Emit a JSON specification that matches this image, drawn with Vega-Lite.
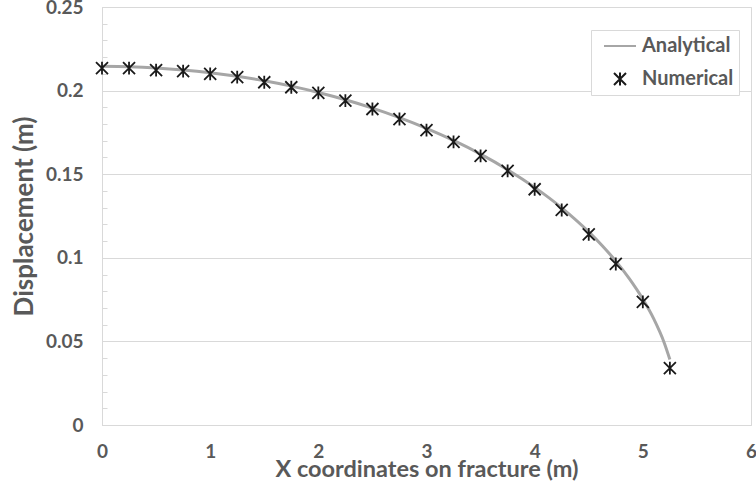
{
  "$schema": "https://vega.github.io/schema/vega-lite/v6.json",
  "width": 649,
  "height": 418,
  "autosize": {"type": "none"},
  "padding": {"left": 102, "top": 7, "right": 5, "bottom": 69},
  "background": "white",
  "config": {
    "view": {"stroke": "#d9d9d9", "strokeWidth": 1},
    "font": "Lato",
    "axis": {
      "labelFont": "Lato", "labelFontWeight": "bold", "labelFontSize": 19, "labelColor": "#595959",
      "titleFont": "Lato", "titleFontWeight": "bold", "titleFontSize": 23.5, "titleColor": "#595959",
      "domainColor": "#d9d9d9", "gridColor": "#d9d9d9", "labelFlush": false, "labelOverlap": false, "labelBound": false
    },
    "legend": {
      "labelFont": "Lato", "labelFontWeight": "bold", "labelFontSize": 20, "labelColor": "#595959",
      "orient": "none", "legendX": 489, "legendY": 23,
      "strokeColor": "#d9d9d9", "fillColor": "white", "padding": 5,
      "rowPadding": 12, "symbolOffset": 13, "labelOffset": 11, "symbolSize": 400, "symbolStrokeWidth": 2
    }
  },
  "datasets": {
    "analytical": [
      {"x": 0, "y": 0.2145}, {"x": 0.25, "y": 0.21426}, {"x": 0.5, "y": 0.21356}, {"x": 0.75, "y": 0.21237},
      {"x": 1.0, "y": 0.21071}, {"x": 1.25, "y": 0.20854}, {"x": 1.5, "y": 0.20586}, {"x": 1.75, "y": 0.20266},
      {"x": 2.0, "y": 0.19889}, {"x": 2.25, "y": 0.19453}, {"x": 2.5, "y": 0.18954}, {"x": 2.75, "y": 0.18387},
      {"x": 3.0, "y": 0.17745}, {"x": 3.25, "y": 0.1702}, {"x": 3.5, "y": 0.162}, {"x": 3.75, "y": 0.15271},
      {"x": 4.0, "y": 0.14211}, {"x": 4.25, "y": 0.12987}, {"x": 4.5, "y": 0.11548}, {"x": 4.625, "y": 0.10722},
      {"x": 4.75, "y": 0.09801}, {"x": 4.875, "y": 0.08755}, {"x": 5.0, "y": 0.07532}, {"x": 5.1, "y": 0.06358},
      {"x": 5.2, "y": 0.0488}, {"x": 5.25, "y": 0.03921}
    ],
    "numerical": [
      {"x": 0, "y": 0.2135, "series": "Numerical"}, {"x": 0.25, "y": 0.2135, "series": "Numerical"},
      {"x": 0.5, "y": 0.2123, "series": "Numerical"}, {"x": 0.75, "y": 0.2117, "series": "Numerical"},
      {"x": 1.0, "y": 0.21, "series": "Numerical"}, {"x": 1.25, "y": 0.208, "series": "Numerical"},
      {"x": 1.5, "y": 0.205, "series": "Numerical"}, {"x": 1.75, "y": 0.202, "series": "Numerical"},
      {"x": 2.0, "y": 0.1986, "series": "Numerical"}, {"x": 2.25, "y": 0.194, "series": "Numerical"},
      {"x": 2.5, "y": 0.189, "series": "Numerical"}, {"x": 2.75, "y": 0.183, "series": "Numerical"},
      {"x": 3.0, "y": 0.1764, "series": "Numerical"}, {"x": 3.25, "y": 0.1693, "series": "Numerical"},
      {"x": 3.5, "y": 0.161, "series": "Numerical"}, {"x": 3.75, "y": 0.152, "series": "Numerical"},
      {"x": 4.0, "y": 0.141, "series": "Numerical"}, {"x": 4.25, "y": 0.1286, "series": "Numerical"},
      {"x": 4.5, "y": 0.114, "series": "Numerical"}, {"x": 4.75, "y": 0.0963, "series": "Numerical"},
      {"x": 5.0, "y": 0.0736, "series": "Numerical"}, {"x": 5.25, "y": 0.034, "series": "Numerical"}
    ]
  },
  "layer": [
    {
      "data": {"name": "analytical"},
      "mark": {"type": "line", "color": "#a6a6a6", "strokeWidth": 3, "interpolate": "monotone"},
      "encoding": {
        "x": {
          "field": "x", "type": "quantitative",
          "scale": {"domain": [0, 6], "nice": false, "zero": false},
          "axis": {
            "values": [0, 1, 2, 3, 4, 5, 6], "format": "d", "grid": false, "ticks": false, "tickSize": 0,
            "labelPadding": 17, "title": "X coordinates on fracture (m)",
            "titleBaseline": "alphabetic", "titleY": 51
          }
        },
        "y": {
          "field": "y", "type": "quantitative",
          "scale": {"domain": [0, 0.25], "nice": false},
          "axis": {
            "values": [0, 0.01, 0.02, 0.03, 0.04, 0.05, 0.06, 0.07, 0.08, 0.09, 0.1, 0.11, 0.12, 0.13, 0.14, 0.15, 0.16, 0.17, 0.18, 0.19, 0.2, 0.21, 0.22, 0.23, 0.24, 0.25],
            "tickCount": 40,
            "labelExpr": "abs(datum.value*20 - round(datum.value*20)) < 0.000001 ? format(datum.value, '~g') : ''",
            "gridOpacity": {"condition": {"test": "abs(datum.value*20 - round(datum.value*20)) < 0.000001", "value": 1}, "value": 0},
            "ticks": true, "tickSize": -5, "tickColor": "#d9d9d9",
            "labelPadding": 24,
            "title": "Displacement (m)", "titleAngle": -90, "titleBaseline": "alphabetic",
            "titleFontSize": 26, "titleX": -70, "titleY": 209, "titleAnchor": "middle"
          }
        }
      }
    },
    {
      "data": {"name": "numerical"},
      "mark": {"type": "point", "filled": false, "strokeWidth": 1.8, "size": 400, "opacity": 1},
      "encoding": {
        "x": {"field": "x", "type": "quantitative"},
        "y": {"field": "y", "type": "quantitative"},
        "color": {
          "field": "series", "type": "nominal",
          "scale": {"domain": ["Analytical", "Numerical"], "range": ["#a6a6a6", "#1a1a1a"]},
          "legend": {"title": null}
        },
        "shape": {
          "field": "series", "type": "nominal",
          "scale": {
            "domain": ["Analytical", "Numerical"],
            "range": ["M-1.6,0L1.6,0", "M-0.6,-0.6L0.6,0.6M-0.6,0.6L0.6,-0.6M0,-0.64L0,0.64"]
          },
          "legend": {
            "title": null,
            "encode": {
              "symbols": {
                "update": {
                  "strokeWidth": {"signal": "datum.value === 'Analytical' ? 3 : 1.8"}
                }
              }
            }
          }
        }
      }
    }
  ]
}
